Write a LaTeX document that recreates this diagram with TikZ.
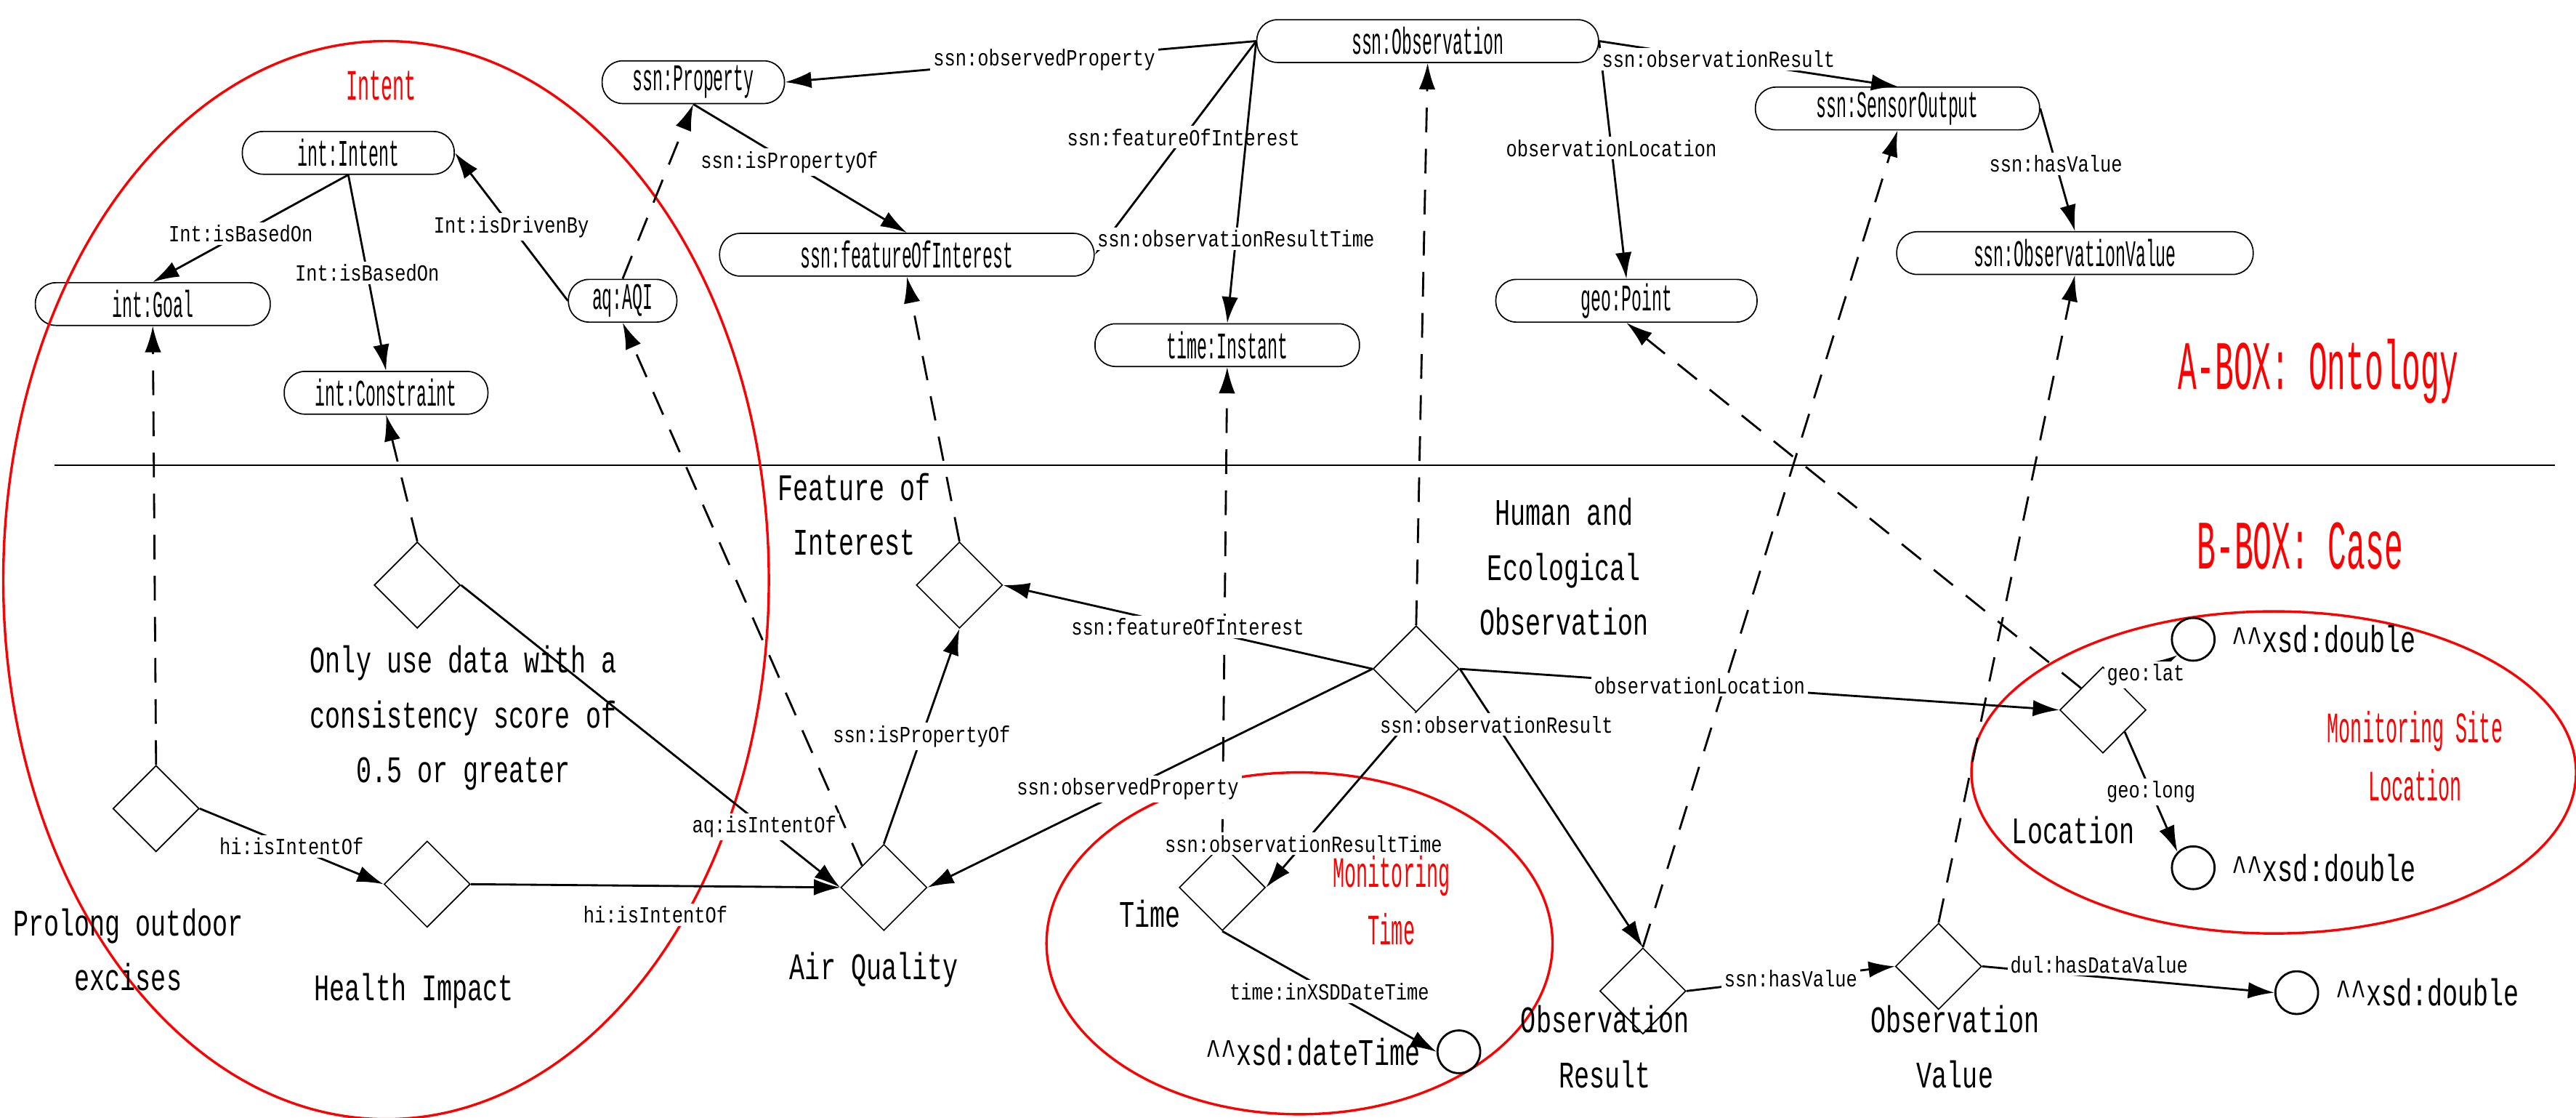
\documentclass[tikz,border=0pt]{standalone}
\usepackage{fontspec}
\newfontfamily\monofont{Liberation Mono}[FakeStretch=0.45]
\newfontfamily\labfont{Liberation Mono}[FakeStretch=0.8]
\newfontfamily\bigfont{Liberation Mono}[FakeStretch=0.68]
\usepackage{tikz}
\usetikzlibrary{arrows.meta, shapes, positioning}
\begin{document}
\begin{tikzpicture}[x=0.02cm,y=-0.02cm,>={Latex[length=3.2mm,width=2mm]},line width=0.25mm]
	\useasboundingbox (0,0) rectangle (1568,680);

	\tikzset{node cls/.style={draw, rounded corners=2.5mm, line width=0.15mm,
			minimum height=0.52cm, inner sep=1pt, font=\monofont\fontsize{13}{14}\selectfont}}
	\tikzset{node ind/.style={draw, diamond, line width=0.15mm, inner sep=0pt,
			minimum width=1.05cm, minimum height=1.05cm}}
	\tikzset{node lit/.style={draw, circle, line width=0.25mm, inner sep=0pt, minimum size=0.52cm}}
	\tikzset{lab/.style={fill=white, inner sep=1pt, font=\labfont\fontsize{8}{9}\selectfont}}
	\tikzset{txt/.style={align=center, font=\bigfont\fontsize{13}{19}\selectfont}}
	\tikzset{red txt/.style={align=center, text=red, font=\monofont\fontsize{15}{20}\selectfont}}
	\tikzset{inst of/.style={->, dash pattern=on 3mm off 2mm}}

	% A-box classes
	\node[node cls, minimum width=4.16cm] (obs) at (869,25) {ssn:Observation};
	\node[node cls, minimum width=2.22cm] (prop) at (422,50) {ssn:Property};
	\node[node cls, minimum width=2.58cm] (intent) at (212,93) {int:Intent};
	\node[node cls, minimum width=2.86cm] (goal) at (93,185) {int:Goal};
	\node[node cls, minimum width=2.48cm] (constr) at (235,239) {int:Constraint};
	\node[node cls, minimum width=1.32cm] (aqi) at (379,183) {aq:AQI};
	\node[node cls, minimum width=4.56cm] (foi) at (552,155) {ssn:featureOfInterest};
	\node[node cls, minimum width=3.22cm] (instant) at (747,210) {time:Instant};
	\node[node cls, minimum width=3.18cm] (point) at (990,183) {geo:Point};
	\node[node cls, minimum width=3.46cm] (sout) at (1155,66) {ssn:SensorOutput};
	\node[node cls, minimum width=4.34cm] (oval) at (1263,154) {ssn:ObservationValue};

	\draw[line width=0.2mm] (33,283) coordinate (sepL) -- (1555,283) coordinate (sepR);

	% red ellipses
	\draw[red, line width=0.3mm] (235,353) ellipse [x radius=233, y radius=328];
	\draw[red, line width=0.3mm] (791,574) ellipse [x radius=154, y radius=104];
	\draw[red, line width=0.3mm] (1384,470) ellipse [x radius=184, y radius=98];

	\node[red txt] at (232,52) {Intent};
	\node[red txt, font=\monofont\fontsize{24}{26}\selectfont] at (1411,226) {A-BOX: Ontology};
	\node[red txt, font=\monofont\fontsize{24}{26}\selectfont] at (1400,332) {B-BOX: Case};
	\node[red txt] at (847,548) {Monitoring\\Time};
	\node[red txt] at (1470,460) {Monitoring Site\\Location};

	% B-box individuals
	\node[node ind] (dcon) at (254,356) {};
	\node[node ind] (dfoi) at (584,356) {};
	\node[node ind] (dobs) at (862,407) {};
	\node[node ind] (dgoal) at (95,492) {};
	\node[node ind] (dhealth) at (260,538) {};
	\node[node ind] (dair) at (538,540) {};
	\node[node ind] (dtime) at (744,540) {};
	\node[node ind] (dres) at (1000,603) {};
	\node[node ind] (dval) at (1180,588) {};
	\node[node ind] (dloc) at (1280,432) {};

	\node[node lit] (clat) at (1335,389) {};
	\node[node lit] (clong) at (1335,528) {};
	\node[node lit] (ctime) at (888,640) {};
	\node[node lit] (cval) at (1398,604) {};

	\node[txt, right=2pt of clat] {\textasciicircum\textasciicircum xsd:double};
	\node[txt, right=2pt of clong] {\textasciicircum\textasciicircum xsd:double};
	\node[txt, right=2pt of cval] {\textasciicircum\textasciicircum xsd:double};
	\node[txt, left=2pt of ctime] {\textasciicircum\textasciicircum xsd:dateTime};

	\node[txt] at (282,437) {Only use data with a\\consistency score of\\0.5 or greater};
	\node[txt] at (520,313) {Feature of\\Interest};
	\node[txt] at (952,345) {Human and\\Ecological\\Observation};
	\node[txt] at (78,578) {Prolong outdoor\\excises};
	\node[txt] at (252,603) {Health Impact};
	\node[txt] at (532,590) {Air Quality};
	\node[txt] at (700,556) {Time};
	\node[txt] at (977,637) {Observation\\Result};
	\node[txt] at (1190,637) {Observation\\Value};
	\node[txt] at (1262,505) {Location};

	% ontology relations
	\draw[->] (obs.west) -- node[lab, pos=0.45]{ssn:observedProperty} (prop.east);
	\draw[->] (obs.west) -- node[lab, pos=0.45]{ssn:featureOfInterest} (foi.east);
	\draw[->] (obs.west) -- node[lab, pos=0.7]{ssn:observationResultTime} (instant.north);
	\draw[->] (obs.east) -- node[lab, pos=0.45]{observationLocation} (point.north);
	\draw[->] (obs.east) -- node[lab, pos=0.4]{ssn:observationResult} (sout.north);
	\draw[->] (sout.east) -- node[lab, pos=0.45]{ssn:hasValue} (oval.north);
	\draw[->] (prop.south) -- node[lab, pos=0.45]{ssn:isPropertyOf} (foi.north);
	\draw[->] (intent.south) -- node[lab, pos=0.55]{Int:isBasedOn} (goal.north);
	\draw[->] (intent.south) -- node[lab, pos=0.5]{Int:isBasedOn} (constr.north);
	\draw[->] (aqi.west) -- node[lab, pos=0.5]{Int:isDrivenBy} (intent.east);

	% instance-of
	\draw[inst of] (dgoal.north) -- (goal.south);
	\draw[inst of] (dcon.north) -- (constr.south);
	\draw[inst of] (dair.north west) -- (aqi.south);
	\draw[inst of] (aqi.north) -- (prop.south);
	\draw[inst of] (dfoi.north) -- (foi.south);
	\draw[inst of] (dobs.north) -- (obs.south);
	\draw[inst of] (dtime.north) -- (instant.south);
	\draw[inst of] (dres.north) -- (sout.south);
	\draw[inst of] (dval.north) -- (oval.south);
	\draw[inst of] (dloc.north west) -- (point.south);

	% case relations
	\draw[->] (dobs.west) -- node[lab, pos=0.5]{ssn:featureOfInterest} (dfoi.east);
	\draw[->] (dobs.west) -- node[lab, pos=0.55]{ssn:observedProperty} (dair.east);
	\draw[->] (dobs.south) -- node[lab, pos=0.75]{ssn:observationResultTime} (dtime.east);
	\draw[->] (dobs.east) -- node[lab, pos=0.2]{ssn:observationResult} (dres.north);
	\draw[->] (dobs.east) -- node[lab, pos=0.4]{observationLocation} (dloc.west);
	\draw[->] (dair.north) -- node[lab, pos=0.5]{ssn:isPropertyOf} (dfoi.south);
	\draw[->] (dcon.east) -- node[lab, pos=0.8]{aq:isIntentOf} (dair.west);
	\draw[->] (dhealth.east) -- node[lab, pos=0.5, below=2mm]{hi:isIntentOf} (dair.west);
	\draw[->] (dgoal.east) -- node[lab, pos=0.5]{hi:isIntentOf} (dhealth.west);
	\draw[->] (dtime.south) -- node[lab, pos=0.5]{time:inXSDDateTime} (ctime.west);
	\draw[->] (dres.east) -- node[lab, pos=0.5]{ssn:hasValue} (dval.west);
	\draw[->] (dval.east) -- node[lab, pos=0.4, above]{dul:hasDataValue} (cval.west);
	\draw[->] (dloc.north east) -- node[lab, pos=0.4]{geo:lat} (clat.south west);
	\draw[->] (dloc.south east) -- node[lab, pos=0.5]{geo:long} (clong.north west);
\end{tikzpicture}
\end{document}
